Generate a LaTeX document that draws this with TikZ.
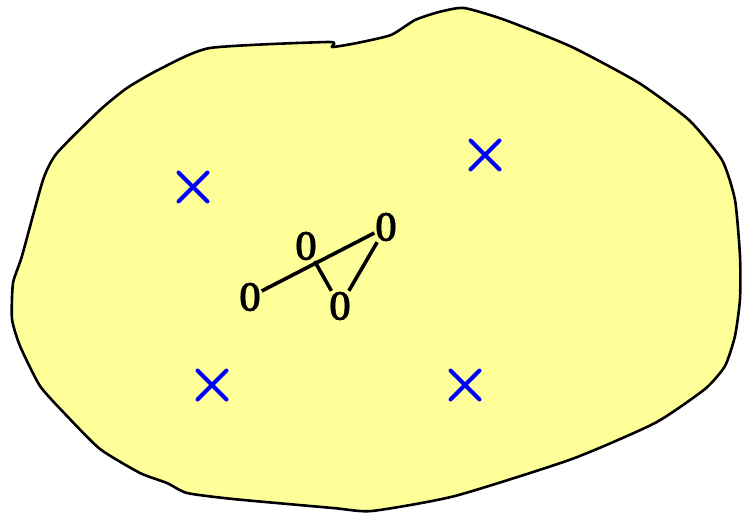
\documentclass[tikz,border=0pt]{standalone}
\usepackage{fontspec}
\setmainfont{Liberation Serif}
\newfontfamily\ptfont[FakeBold=1.5]{Liberation Serif Bold}
\usepackage{graphicx}
\usetikzlibrary{shapes.misc}
\definecolor{blobfill}{RGB}{255,255,153}

\begin{document}
\begin{tikzpicture}[
  x=1pt,y=-1pt,
  blob/.style={draw=black,line width=2.6pt,fill=blobfill,line join=round},
  letter/.style={inner sep=0pt,font=\ptfont\fontsize{42}{42}\selectfont},
  xmark/.style={cross out,draw=blue,line width=4pt,line cap=round,minimum size=25pt,inner sep=0pt},
  link/.style={black,line width=3.6pt,shorten <=1pt,shorten >=1pt}
]
\useasboundingbox (0,0) rectangle (744,513);

% Region
\draw[blob] plot[smooth cycle,tension=0.35] coordinates {
  (22,256) (43,180) (57,153) (100,110) (127,88) (160,69) (210,48)
  (329,42) (332,47) (357,43) (391,35) (415,20) (439,12) (464,8)
  (505,20) (572,47) (639,83) (689,120) (722,160) (735,200) (740,256)
  (740,299) (735,336) (725,366) (705,389) (655,423) (572,459) (455,496)
  (372,511) (333,508) (233,499) (187,493) (167,483) (140,473) (100,449)
  (67,416) (40,386) (20,346) (12,319) (13,283)};

% Crosses
\node[xmark] (xnw) at (193,187) {};
\node[xmark] (xne) at (485,155) {};
\node[xmark] (xsw) at (212,385) {};
\node[xmark] (xse) at (465,385) {};

% Points
\node[letter] (oleft) at (250,297) {\scalebox{0.65}[1]{O}};
\node[letter] (omid) at (306,246) {\scalebox{0.65}[1]{O}};
\node[letter] (oright) at (386,227) {\scalebox{0.65}[1]{O}};
\node[letter] (obot) at (340,306) {\scalebox{0.65}[1]{O}};

% Connections
\draw[link] (oleft) -- (oright);
\draw[link] (omid) -- (obot);
\draw[link] (obot) -- (oright);
\end{tikzpicture}
\end{document}
